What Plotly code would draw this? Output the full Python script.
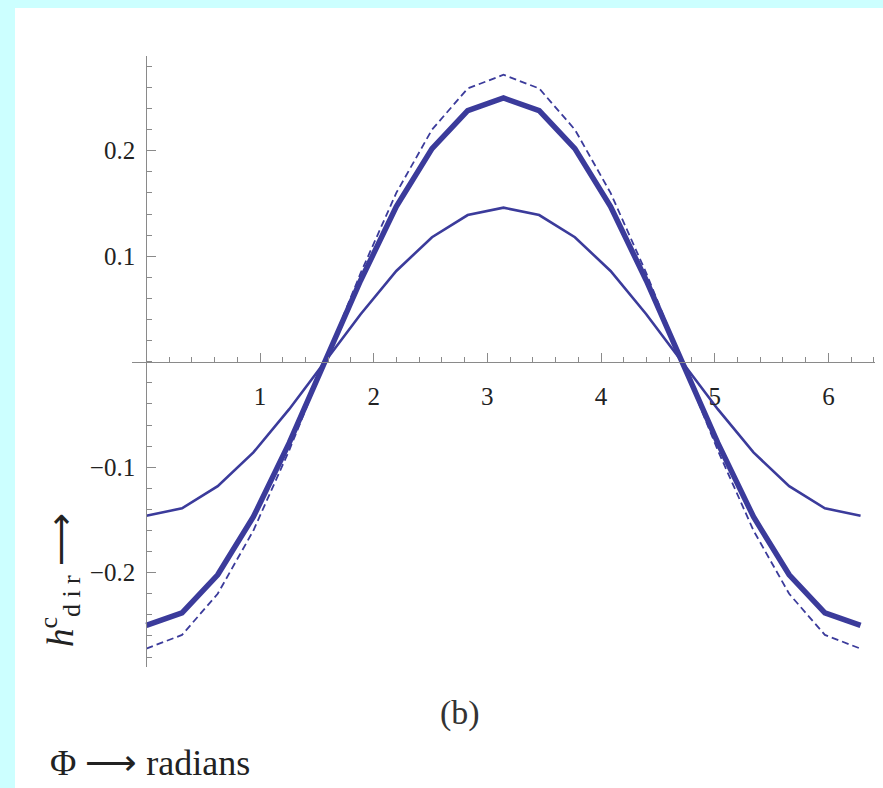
import plotly.graph_objects as go

# Azimuth samples (radians), k*pi/10 for k = 0..20
phi = [0.000, 0.314, 0.628, 0.942, 1.257, 1.571, 1.885, 2.199, 2.513, 2.827,
       3.142, 3.456, 3.770, 4.084, 4.398, 4.712, 5.027, 5.341, 5.655, 5.969, 6.283]

# h_dir^c curves
h_thick = [-0.250, -0.238, -0.202, -0.147, -0.077, 0.000, 0.077, 0.147, 0.202, 0.238,
           0.250, 0.238, 0.202, 0.147, 0.077, 0.000, -0.077, -0.147, -0.202, -0.238, -0.250]
h_thin = [-0.146, -0.139, -0.118, -0.086, -0.045, 0.000, 0.045, 0.086, 0.118, 0.139,
          0.146, 0.139, 0.118, 0.086, 0.045, 0.000, -0.045, -0.086, -0.118, -0.139, -0.146]
h_dashed = [-0.272, -0.259, -0.220, -0.160, -0.084, 0.000, 0.084, 0.160, 0.220, 0.259,
            0.272, 0.259, 0.220, 0.160, 0.084, 0.000, -0.084, -0.160, -0.220, -0.259, -0.272]

x_ticks = [1, 2, 3, 4, 5, 6]
x_labels = ["1", "2", "3", "4", "5", "6"]
y_ticks = [-0.2, -0.1, 0.1, 0.2]
y_labels = ["\u22120.2", "\u22120.1", "0.1", "0.2"]

x_range = [-0.126, 6.41]
y_range = [-0.2894, 0.2898]

LINE = "#3b3b9b"
AXIS = "#8a8a8a"
SERIF = "Liberation Serif"

W, H = 883, 788
L, R, T, B = 132, 8, 56, 121

fig = go.Figure()
fig.add_trace(go.Scatter(x=phi, y=h_dashed, mode="lines",
                         line=dict(color=LINE, width=1.8, dash="7px,4px"),
                         cliponaxis=False, showlegend=False))
fig.add_trace(go.Scatter(x=phi, y=h_thin, mode="lines",
                         line=dict(color=LINE, width=2.6),
                         cliponaxis=False, showlegend=False))
fig.add_trace(go.Scatter(x=phi, y=h_thick, mode="lines",
                         line=dict(color=LINE, width=5.5),
                         cliponaxis=False, showlegend=False))

# axes cross at the origin
x_pos = (0 - y_range[0]) / (y_range[1] - y_range[0])
y_pos = (0 - x_range[0]) / (x_range[1] - x_range[0])

fig.update_xaxes(
    range=x_range, anchor="free", position=x_pos,
    showline=True, linecolor=AXIS, linewidth=1.3,
    showgrid=False, zeroline=False,
    tickmode="array", tickvals=x_ticks, ticktext=x_labels,
    ticks="inside", ticklen=9, tickwidth=1.2, tickcolor=AXIS,
    ticklabelstandoff=12,
    tickfont=dict(family=SERIF, size=25, color="#222"),
    minor=dict(dtick=0.2, tick0=0, ticks="inside", ticklen=5,
               tickwidth=1, tickcolor=AXIS, showgrid=False),
)
fig.update_yaxes(
    range=y_range, anchor="free", position=y_pos,
    showline=True, linecolor=AXIS, linewidth=1.3,
    showgrid=False, zeroline=False,
    tickmode="array", tickvals=y_ticks, ticktext=y_labels,
    ticks="inside", ticklen=9, tickwidth=1.2, tickcolor=AXIS,
    ticklabelstandoff=6,
    tickfont=dict(family=SERIF, size=25, color="#222"),
    minor=dict(dtick=0.02, tick0=0, ticks="inside", ticklen=5,
               tickwidth=1, tickcolor=AXIS, showgrid=False),
)


def px_x(p):
    return (p - L) / (W - L - R)


def px_y(p):
    return (H - B - p) / (H - T - B)


# light cyan frame along the top and left edges
CYAN = "#ccffff"
fig.add_shape(type="rect", xref="paper", yref="paper",
              x0=px_x(0), x1=px_x(W), y0=px_y(0), y1=px_y(8),
              fillcolor=CYAN, line=dict(width=0), layer="below")
fig.add_shape(type="rect", xref="paper", yref="paper",
              x0=px_x(0), x1=px_x(15), y0=px_y(H), y1=px_y(0),
              fillcolor=CYAN, line=dict(width=0), layer="below")

fig.add_annotation(text="(b)", xref="paper", yref="paper",
                   x=px_x(460), y=px_y(713), xanchor="center", yanchor="middle",
                   showarrow=False,
                   font=dict(family=SERIF, size=34, color="#333"))
fig.add_annotation(text="\u03a6 \u27f6 radians", xref="paper", yref="paper",
                   x=px_x(48), y=px_y(763), xanchor="left", yanchor="middle",
                   showarrow=False,
                   font=dict(family=SERIF, size=36, color="#222"))
fig.add_annotation(text="<i>h</i><sup>c</sup><sub>d i r</sub> \u27f6",
                   xref="paper", yref="paper", textangle=-90,
                   x=px_x(60), y=px_y(580), xanchor="center", yanchor="middle",
                   showarrow=False,
                   font=dict(family=SERIF, size=37, color="#222"))

fig.update_layout(
    width=W, height=H,
    margin=dict(l=L, r=R, t=T, b=B, pad=0),
    paper_bgcolor="white", plot_bgcolor="white",
)

fig.write_html("out.html")
